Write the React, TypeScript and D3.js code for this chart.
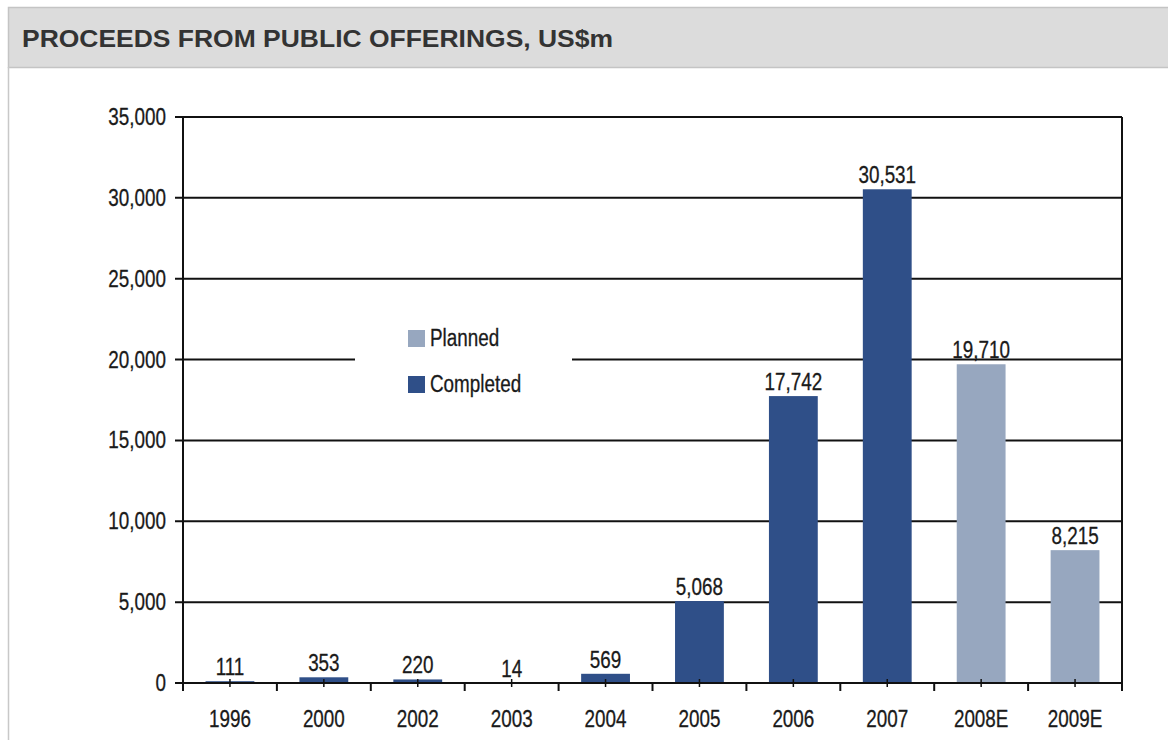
import React, { useEffect, useRef } from "react"
import * as d3 from "d3"

const categories = ["1996", "2000", "2002", "2003", "2004", "2005", "2006", "2007", "2008E", "2009E"]
const values = [111, 353, 220, 14, 569, 5068, 17742, 30531, 19710, 8215]
const status = ["Completed", "Completed", "Completed", "Completed", "Completed", "Completed", "Completed", "Completed", "Planned", "Planned"]
const yTicks = [0, 5000, 10000, 15000, 20000, 25000, 30000, 35000]
const legendItems = ["Planned", "Completed"]

const colors: Record<string, string> = {
  Completed: "#2f4f88",
  Planned: "#97a7bf",
}

const W = 1168
const H = 740
const font = "'Liberation Sans', Arial, sans-serif"
const SX = 0.82 // condensed look

const App: React.FC = () => {
  const svgRef = useRef<SVGSVGElement>(null)

  useEffect(() => {
    if (!svgRef.current) return
    const svg = d3.select(svgRef.current)
    svg.selectAll("*").remove()

    // panel + header
    svg.append("rect").attr("x", 0).attr("y", 0).attr("width", W).attr("height", H).attr("fill", "#fff")
    svg.append("rect")
      .attr("x", 8.5).attr("y", 7.5).attr("width", W).attr("height", 60)
      .attr("fill", "#dcdcdc").attr("stroke", "#c4c4c4").attr("stroke-width", 1.5)
    svg.append("line")
      .attr("x1", 8.5).attr("x2", 8.5).attr("y1", 67).attr("y2", H)
      .attr("stroke", "#c8c8c8").attr("stroke-width", 1.5)
    svg.append("text")
      .attr("x", 22).attr("y", 47)
      .attr("font-family", font)
      .attr("font-weight", "bold").attr("font-size", "23px").attr("fill", "#333")
      .attr("textLength", 591).attr("lengthAdjust", "spacingAndGlyphs")
      .text("PROCEEDS FROM PUBLIC OFFERINGS, US$m")

    const margin = { left: 183, right: 1122, top: 117, bottom: 683 }

    const x = d3.scaleBand<string>()
      .domain(categories)
      .range([margin.left, margin.right])
      .paddingInner(0.48)
      .paddingOuter(0.24)

    const y = d3.scaleLinear().domain([0, 35000]).range([margin.bottom, margin.top])

    const g = svg.append("g")

    const label = (px: number, py: number, txt: string, anchor: string) =>
      g.append("text")
        .attr("transform", `translate(${px},${py}) scale(${SX},1)`)
        .attr("text-anchor", anchor)
        .attr("font-family", font).attr("font-size", "23px").attr("fill", "#1a1a1a")
        .attr("stroke", "#1a1a1a").attr("stroke-width", 0.3)
        .text(txt)

    // gridlines
    g.selectAll(".grid").data(yTicks).enter().append("line")
      .attr("x1", margin.left - 8).attr("x2", margin.right)
      .attr("y1", (d) => y(d)).attr("y2", (d) => y(d))
      .attr("stroke", "#111").attr("stroke-width", 2)

    // y tick labels
    yTicks.forEach((t) => label(margin.left - 17, y(t) + 8, d3.format(",")(t), "end"))

    // legend box (breaks gridline)
    g.append("rect").attr("x", 355).attr("y", 318).attr("width", 217).attr("height", 86).attr("fill", "#fff")
    legendItems.forEach((k, i) => {
      const ly = 338 + i * 46
      g.append("rect").attr("x", 408).attr("y", ly - 8).attr("width", 17).attr("height", 17).attr("fill", colors[k])
      label(430, ly + 8, k, "start")
    })

    // bars
    const idx = d3.range(categories.length)
    g.selectAll(".bar").data(idx).enter().append("rect")
      .attr("x", (i) => x(categories[i])!)
      .attr("y", (i) => y(values[i]))
      .attr("width", x.bandwidth())
      .attr("height", (i) => y(0) - y(values[i]))
      .attr("fill", (i) => colors[status[i]])

    // value labels
    idx.forEach((i) =>
      label(x(categories[i])! + x.bandwidth() / 2, y(values[i]) - 6, d3.format(",")(values[i]), "middle")
    )

    // axes frame
    g.append("line")
      .attr("x1", margin.left).attr("x2", margin.left).attr("y1", margin.top).attr("y2", margin.bottom + 8)
      .attr("stroke", "#111").attr("stroke-width", 2)
    g.append("line")
      .attr("x1", margin.right).attr("x2", margin.right).attr("y1", margin.top).attr("y2", margin.bottom + 8)
      .attr("stroke", "#111").attr("stroke-width", 2)
    g.append("line")
      .attr("x1", margin.left - 8).attr("x2", margin.right).attr("y1", margin.bottom).attr("y2", margin.bottom)
      .attr("stroke", "#111").attr("stroke-width", 2)

    // category boundary ticks
    const step = x.step()
    const bounds = d3.range(1, categories.length).map((i) => margin.left + i * step)
    g.selectAll(".btick").data(bounds).enter().append("line")
      .attr("x1", (d) => d).attr("x2", (d) => d)
      .attr("y1", margin.bottom).attr("y2", margin.bottom + 8)
      .attr("stroke", "#111").attr("stroke-width", 2)

    // centre ticks
    g.selectAll(".ctick").data(categories).enter().append("line")
      .attr("x1", (d) => x(d)! + x.bandwidth() / 2).attr("x2", (d) => x(d)! + x.bandwidth() / 2)
      .attr("y1", margin.bottom - 4).attr("y2", margin.bottom + 4)
      .attr("stroke", "#111").attr("stroke-width", 1.5)

    // x labels
    categories.forEach((c) => label(x(c)! + x.bandwidth() / 2, 727, c, "middle"))
  }, [])

  return (
    <div style={{ position: "absolute", left: 0, top: 0 }}>
      <svg ref={svgRef} width={W} height={H} style={{ display: "block" }} />
    </div>
  )
}

export default App
